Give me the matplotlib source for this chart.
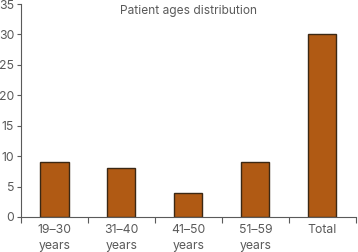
import numpy as np
import matplotlib
matplotlib.use("Agg")
import matplotlib.pyplot as plt

categories = ["19\u201330\nyears", "31\u201340\nyears", "41\u201350\nyears", "51\u201359\nyears", "Total"]
values = [9, 8, 4, 9, 30]

BAR = "#B05A14"
EDGE = "#3B2814"
TXT = "#5a5a5a"

plt.rcParams["font.family"] = ["Inter", "DejaVu Sans"]

fig = plt.figure(figsize=(3.58, 2.52), dpi=100)
ax = fig.add_axes([0.0587, 0.139, 0.935, 0.845])

x = np.arange(len(categories))
ax.bar(x, values, width=0.42, color=BAR, edgecolor=EDGE, linewidth=1.0)

ax.set_xlim(-0.5, len(categories) - 0.5)
ax.set_ylim(0, 35)
ax.set_yticks(range(0, 36, 5))
ax.set_xticks(np.arange(-0.5, len(categories), 1.0), minor=False)
ax.set_xticklabels([])
ax.set_xticks(x, minor=True)
ax.set_xticklabels(categories, minor=True, linespacing=1.45)
ax.tick_params(axis="x", which="minor", length=0, pad=5, labelsize=8.8, labelcolor=TXT)
ax.tick_params(axis="x", which="major", length=4, color=TXT, direction="out")
ax.tick_params(axis="y", length=3, color=TXT, labelsize=8.8, labelcolor=TXT, pad=2)

for s in ["top", "right"]:
    ax.spines[s].set_visible(False)
ax.spines["left"].set_color(TXT)
ax.spines["bottom"].set_color(TXT)

ax.text(0.5, 0.995, "Patient ages distribution", transform=ax.transAxes,
        ha="center", va="top", fontsize=8.6, color=TXT)

fig.savefig("out.png", dpi=100)
